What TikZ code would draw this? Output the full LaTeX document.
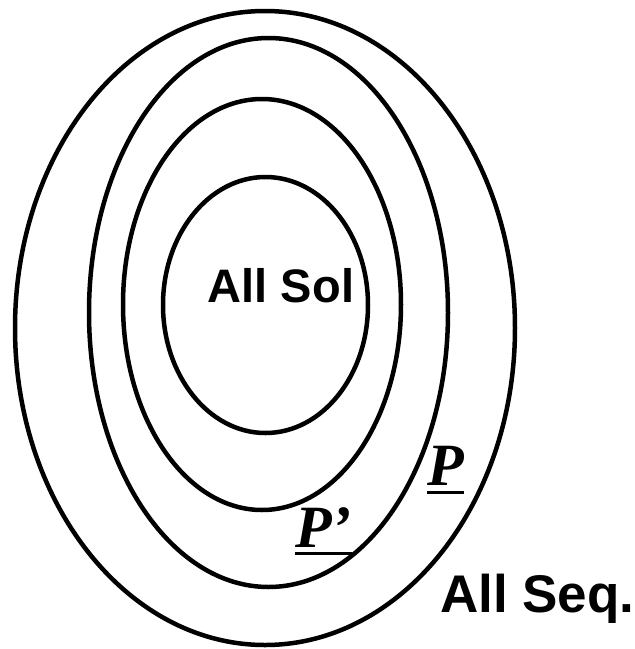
\documentclass[tikz,border=0pt]{standalone}
\usepackage{fontspec}
\setmainfont{Liberation Serif}
\setsansfont{Liberation Sans}
\usepackage{tikz}

\begin{document}
\begin{tikzpicture}[x=1pt, y=-1pt,
        ring/.style={line width=4.5pt},
        setlabel/.style={font=\sffamily\bfseries\fontsize{#1}{#1}\selectfont, inner sep=0pt},
        relabel/.style={font=\fontsize{60}{60}\selectfont\bfseries\itshape, inner sep=0pt},
        uline/.style={line width=3pt}]
        \useasboundingbox (0,0) rectangle (635,649);

        % Four nested sets
        \draw[ring] (265,328) ellipse [x radius=250pt, y radius=317pt];
        \draw[ring] (268.5,312.5) ellipse [x radius=179.5pt, y radius=274.5pt];
        \draw[ring] (262,304.5) ellipse [x radius=139pt, y radius=205.5pt];
        \draw[ring] (265.5,305) ellipse [x radius=102.5pt, y radius=128pt];

        % Labels of the inner and outer set
        \node[setlabel=47, anchor=base] (allsol) at (281,302) {All Sol};
        \node[setlabel=53, anchor=base west] (allseq) at (440,612) {All Seq.};

        % Underlined P and P'
        \node[relabel, anchor=base west] (P) at (427,485) {P};
        \draw[uline] ([yshift=-7pt]P.base west) -- ([yshift=-7pt]P.base east);
        \node[relabel, anchor=base west] (Pprime) at (295,547) {P’};
        \draw[uline] ([yshift=-6pt]Pprime.base west) -- ([yshift=-6pt]Pprime.base east);
\end{tikzpicture}
\end{document}
